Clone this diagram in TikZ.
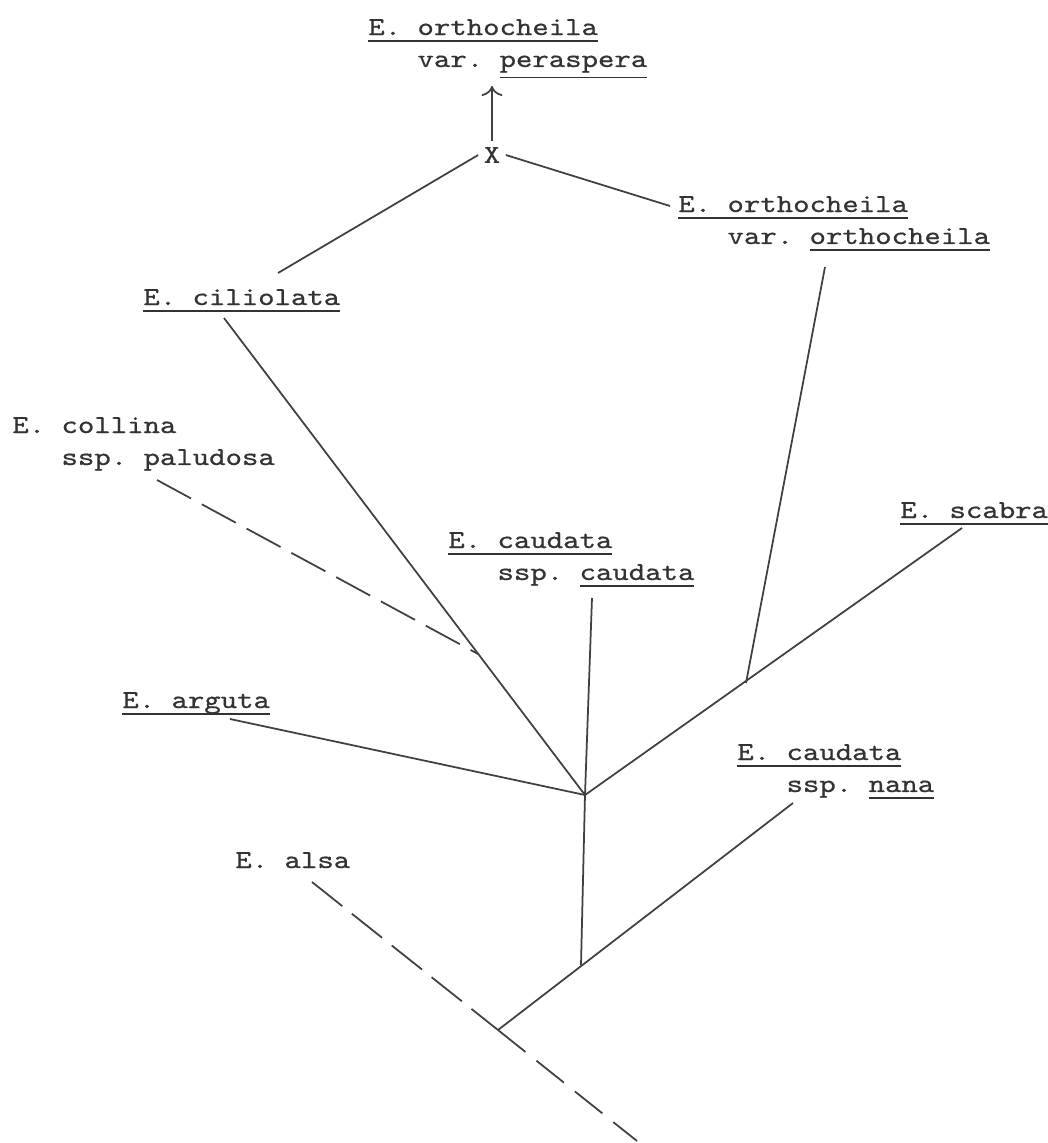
\documentclass[tikz,border=0pt]{standalone}
\usepackage{fontspec}
\usetikzlibrary{arrows.meta}
\newfontfamily\typerfont{lmmono10-regular.otf}[FakeStretch=1.21, FakeBold=0.6]
\newcommand{\typer}{\typerfont\fontsize{14.7}{18.2}\selectfont\frenchspacing}
\newcommand{\ul}[2][3.8pt]{\setbox0\hbox{#2}\rlap{\rule[-#1]{\wd0}{1pt}}\box0}
\newcommand{\twoline}[2]{\begin{tabular}[t]{@{}l@{}}#1\\\hphantom{E. }#2\end{tabular}}
\begin{document}
\begin{tikzpicture}[x=0.02cm, y=-0.02cm,
    taxon/.style={anchor=base west, inner sep=0pt, font=\typer, text=black!80},
    line/.style={draw, black!75, line width=1pt},
    dashline/.style={line, dash pattern=on 22pt off 7pt},
    arrline/.style={line, -{To[scale=1.5]}}]
    \useasboundingbox (0,0) rectangle (1048,1143);
    % taxa
    \node [taxon] (peraspera) at (368,35) {\twoline{\ul{E. orthocheila}}{var. \ul[6.5pt]{peraspera}}};
    \node [taxon, anchor=center, inner sep=3pt] (cross) at (492,155) {X};
    \node [taxon] (ciliolata) at (143,305) {\ul{E. ciliolata}};
    \node [taxon] (orthocheila) at (678,212) {\twoline{\ul{E. orthocheila}}{var. \ul{orthocheila}}};
    \node [taxon] (collina) at (12,433) {\twoline{E. collina}{ssp. paludosa}};
    \node [taxon] (scabra) at (900,518) {\ul{E. scabra}};
    \node [taxon] (caudata) at (448,548) {\twoline{\ul{E. caudata}}{ssp. \ul{caudata}}};
    \node [taxon] (arguta) at (122,708) {\ul{E. arguta}};
    \node [taxon] (nana) at (737,760) {\twoline{\ul{E. caudata}}{ssp. \ul{nana}}};
    \node [taxon] (alsa) at (235,868) {E. alsa};

    % forks and branch ends
    \coordinate (fork) at (585,795);
    \coordinate (lowfork) at (581,965);
    \coordinate (root) at (498,1030);
    \coordinate (orthofork) at (746,683);
    \coordinate (collinafork) at (478,654);
    \coordinate (aim) at (492,86);
    \coordinate (ciliolataX) at (278,273);
    \coordinate (orthocheilaX) at (670,206);
    \coordinate (ciliolataend) at (224,318);
    \coordinate (orthocheilaend) at (825,267);
    \coordinate (collinaend) at (157,480);
    \coordinate (scabraend) at (962,528);
    \coordinate (caudataend) at (592,598);
    \coordinate (argutaend) at (230,719);
    \coordinate (nanaend) at (793,803);
    \coordinate (alsaend) at (312,882);
    \coordinate (stem) at (637,1141);

    \path [arrline] (cross.north) -- (aim);
    \path [line] (cross.west) -- (ciliolataX);
    \path [line] (cross.east) -- (orthocheilaX);
    \path [line] (ciliolataend) -- (fork);
    \path [line] (orthocheilaend) -- (orthofork);
    \path [line] (fork) -- (scabraend);
    \path [line] (caudataend) -- (fork);
    \path [line] (argutaend) -- (fork);
    \path [line] (fork) -- (lowfork);
    \path [line] (root) -- (nanaend);
    \path [dashline] (collinaend) -- (collinafork);
    \path [dashline] (alsaend) -- (root);
    \path [dashline, dash pattern=on 20pt off 8pt] (root) -- (stem);
\end{tikzpicture}
\end{document}
